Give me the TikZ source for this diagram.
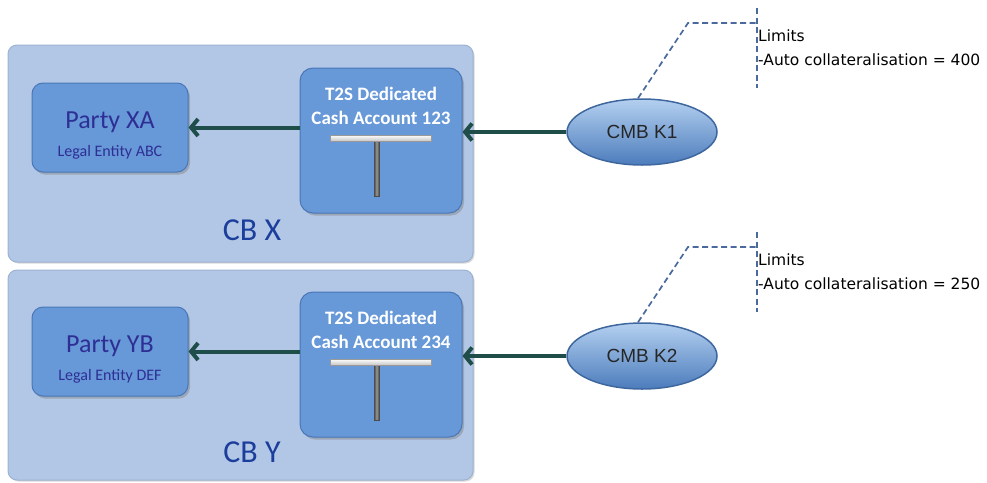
\documentclass[tikz,border=0pt]{standalone}
\usepackage{fontspec}
\setmainfont{Carlito}
\newfontfamily\limitsfont{DejaVu Sans}
\newfontfamily\cmbfont{Liberation Sans}
\usepackage{tikz}
\usetikzlibrary{arrows.meta, positioning, shapes.geometric, shadows}

\definecolor{cbfill}{HTML}{B2C7E5}
\definecolor{cbedge}{HTML}{9DB3D4}
\definecolor{boxfill}{HTML}{6798D8}
\definecolor{boxedge}{HTML}{4977B8}
\definecolor{partytext}{HTML}{2E2F95}
\definecolor{cbtext}{HTML}{1B3E9C}
\definecolor{arrowcol}{HTML}{1F4E4A}
\definecolor{calloutcol}{HTML}{4A6A9E}
\definecolor{cmbtop}{HTML}{B4D0F0}
\definecolor{cmbmid}{HTML}{6E9CD4}
\definecolor{cmbbot}{HTML}{4C7CBC}
\definecolor{cmbedge}{HTML}{3F679F}

\begin{document}
\begin{tikzpicture}[
    x=1pt, y=-1pt,
    node distance=6pt,
    cbbox/.style={rectangle, draw=cbedge, fill=cbfill, line width=1pt, rounded corners=9pt, minimum width=465pt,
        drop shadow={opacity=0.3, shadow xshift=1.5pt, shadow yshift=-1.5pt}},
    party/.style={rectangle, draw=boxedge, fill=boxfill, line width=1pt, rounded corners=11pt, minimum width=156pt, minimum height=89pt,
        align=center, text=partytext, font=\fontsize{26}{28}\selectfont,
        drop shadow={opacity=0.45, shadow xshift=2pt, shadow yshift=-2.5pt}},
    entity/.style={font=\fontsize{16}{18}\selectfont},
    dca/.style={rectangle, draw=boxedge, fill=boxfill, line width=1pt, rounded corners=13pt, minimum width=162pt, minimum height=145pt,
        drop shadow={opacity=0.45, shadow xshift=2pt, shadow yshift=-2.5pt}},
    dcatext/.style={align=center, inner sep=0pt, text=white, font=\bfseries\fontsize{19}{24.5}\selectfont},
    cblabel/.style={text=cbtext, font=\fontsize{32}{36}\selectfont},
    cmb/.style={ellipse, draw=cmbedge, line width=1.5pt, minimum width=150pt, minimum height=66pt, inner sep=0pt,
        top color=cmbtop, middle color=cmbmid, bottom color=cmbbot, text=black!85, font=\cmbfont\fontsize{19}{22}\selectfont},
    limits/.style={anchor=west, align=left, inner sep=1pt, font=\limitsfont\fontsize{15.5}{24}\selectfont},
    callout/.style={draw=calloutcol, line width=1.7pt, dash pattern=on 6pt off 3.5pt},
    hbar/.style={draw=gray!80, line width=0.6pt, top color=white, bottom color=gray!45},
    vbar/.style={draw=gray!60!black, line width=0.6pt, left color=gray!55!black, right color=gray!55!black, middle color=gray!80},
    arrow/.style={-{Straight Barb[length=7pt, width=17pt]}, line width=4pt, draw=arrowcol}
]
\useasboundingbox (0,0) rectangle (987,482);

% central bank X
\node[cbbox, minimum height=217pt] (cbX) at (240.5,153.5) {};
\node[party] (partyX) at (110,127.5) {\rule{0pt}{33pt}Party XA\\{\fontsize{16}{18}\selectfont Legal Entity ABC}};
\node[dca] (dcaX) at (381,140.5) {};
\node[dcatext, below=19pt of dcaX.north] (dcaXtext) {T2S Dedicated\\Cash Account 123};
\node[cblabel] (cbXlabel) at (252,230) {CB X};
\node[cmb] (cmbX) at (642,132) {CMB K1};

% central bank Y
\node[cbbox, minimum height=210pt] (cbY) at (240.5,375) {};
\node[party] (partyY) at (110,351.5) {\rule{0pt}{33pt}Party YB\\{\fontsize{16}{18}\selectfont Legal Entity DEF}};
\node[dca] (dcaY) at (381,364.5) {};
\node[dcatext, below=19pt of dcaY.north] (dcaYtext) {T2S Dedicated\\Cash Account 234};
\node[cblabel] (cbYlabel) at (252,452) {CB Y};
\node[cmb] (cmbY) at (642,356) {CMB K2};

% T bars inside the cash accounts
\foreach \d in {dcaX, dcaY} {
    \draw[vbar] ([shift={(-7,0.5)}]\d.center) rectangle ([shift={(-2,55.5)}]\d.center);
    \draw[hbar] ([shift={(-51,-5.5)}]\d.center) rectangle ([shift={(50,0.5)}]\d.center);
}

% limit callouts
\coordinate (kneeX) at (688,23);
\coordinate (limTopX) at (757,8);
\coordinate (limBotX) at (757,88);
\coordinate (kneeY) at (688,247);
\coordinate (limTopY) at (757,232);
\coordinate (limBotY) at (757,312);
\node[limits] (limX) at (757,48) {Limits\\-Auto collateralisation = 400};
\node[limits] (limY) at (757,272) {Limits\\-Auto collateralisation = 250};

\foreach \k in {X, Y} {
    \draw[callout] ([xshift=-4pt]cmb\k.north) -- (knee\k) -- (knee\k -| limTop\k);
    \draw[callout] (limTop\k) -- (limBot\k);
    \draw[arrow] (cmb\k.west) -- (cmb\k.west -| dca\k.east);
    \draw[arrow] (party\k.east -| dca\k.west) -- (party\k.east);
}

\end{tikzpicture}
\end{document}
